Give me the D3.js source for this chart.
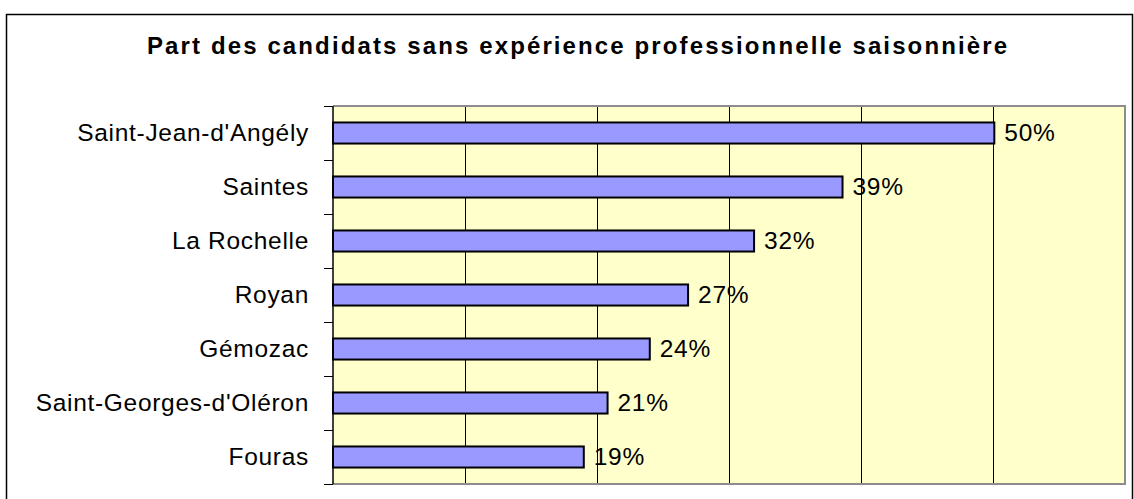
<!DOCTYPE html>
<html>
<head>
<meta charset="utf-8">
<script src="https://cdn.jsdelivr.net/npm/d3@7"></script>
<style>
  html, body { margin: 0; padding: 0; background: #fff; }
  svg { display: block; }
  text { font-family: "Liberation Sans", Arial, sans-serif; fill: #000; }
</style>
</head>
<body>
<svg id="chart" width="1134" height="499"></svg>
<script>
const title = "Part des candidats sans expérience professionnelle saisonnière";
const categories = ["Saint-Jean-d'Angély", "Saintes", "La Rochelle", "Royan", "Gémozac", "Saint-Georges-d'Oléron", "Fouras"];
const values = [0.501, 0.386, 0.319, 0.269, 0.240, 0.208, 0.190];
const xTicks = [0, 0.1, 0.2, 0.3, 0.4, 0.5, 0.6];

const svg = d3.select("#chart");
const plot = { left: 333, right: 1125, top: 106, bottom: 484 };

// outer frame
svg.append("rect")
  .attr("x", 6.5).attr("y", 14.5)
  .attr("width", 1126).attr("height", 500)
  .attr("fill", "#fff").attr("stroke", "#000").attr("stroke-width", 1.5);

// title
svg.append("text")
  .attr("x", 577).attr("y", 54)
  .attr("text-anchor", "middle")
  .attr("font-size", 24).attr("font-weight", "bold")
  .attr("textLength", 860).attr("lengthAdjust", "spacing")
  .text(title);

const x = d3.scaleLinear().domain([0, 0.6]).range([plot.left, plot.right]);
const y = d3.scaleBand().domain(categories).range([plot.top, plot.bottom]).padding(0);

// plot background
svg.append("rect")
  .attr("x", plot.left).attr("y", plot.top)
  .attr("width", plot.right - plot.left).attr("height", plot.bottom - plot.top)
  .attr("fill", "#FFFFCC");

// gridlines
svg.append("g").selectAll("line")
  .data(xTicks.filter(t => t > 0 && t < 0.6))
  .join("line")
  .attr("x1", d => Math.round(x(d)) + 0.5).attr("x2", d => Math.round(x(d)) + 0.5)
  .attr("y1", plot.top).attr("y2", plot.bottom)
  .attr("stroke", "#000").attr("stroke-width", 1);

// plot border (top, right, bottom) gray
svg.append("path")
  .attr("d", `M${plot.left},${plot.top}H${plot.right}V${plot.bottom}H${plot.left}`)
  .attr("fill", "none").attr("stroke", "#8c8c8c").attr("stroke-width", 2);

// bars
const barH = y.bandwidth() * 0.39;
svg.append("g").selectAll("rect")
  .data(categories)
  .join("rect")
  .attr("x", x(0))
  .attr("y", (d) => y(d) + y.bandwidth() / 2 - barH / 2)
  .attr("width", (d, i) => x(values[i]) - x(0))
  .attr("height", barH)
  .attr("fill", "#9999FF")
  .attr("stroke", "#000").attr("stroke-width", 2);

// left axis line + ticks at band boundaries
const bounds = categories.map(c => y(c)).concat([y.range()[1]]);
svg.append("line")
  .attr("x1", plot.left).attr("x2", plot.left)
  .attr("y1", plot.top).attr("y2", plot.bottom)
  .attr("stroke", "#000").attr("stroke-width", 1.5);
svg.append("g").selectAll("line")
  .data(bounds)
  .join("line")
  .attr("x1", plot.left - 9).attr("x2", plot.left)
  .attr("y1", d => Math.round(d) + 0.5).attr("y2", d => Math.round(d) + 0.5)
  .attr("stroke", "#000").attr("stroke-width", 1);

// category labels
svg.append("g").selectAll("text")
  .data(categories)
  .join("text")
  .attr("x", plot.left - 24)
  .attr("y", d => y(d) + y.bandwidth() / 2 + 8)
  .attr("text-anchor", "end")
  .attr("font-size", 24.5)
  .attr("letter-spacing", 0.7)
  .text(d => d);

// value labels
const fmt = d3.format(".0%");
svg.append("g").selectAll("text")
  .data(categories)
  .join("text")
  .attr("x", (d, i) => x(values[i]) + 10)
  .attr("y", d => y(d) + y.bandwidth() / 2 + 8)
  .attr("font-size", 24.5)
  .attr("letter-spacing", 0.7)
  .text((d, i) => fmt(values[i]));
</script>
</body>
</html>
